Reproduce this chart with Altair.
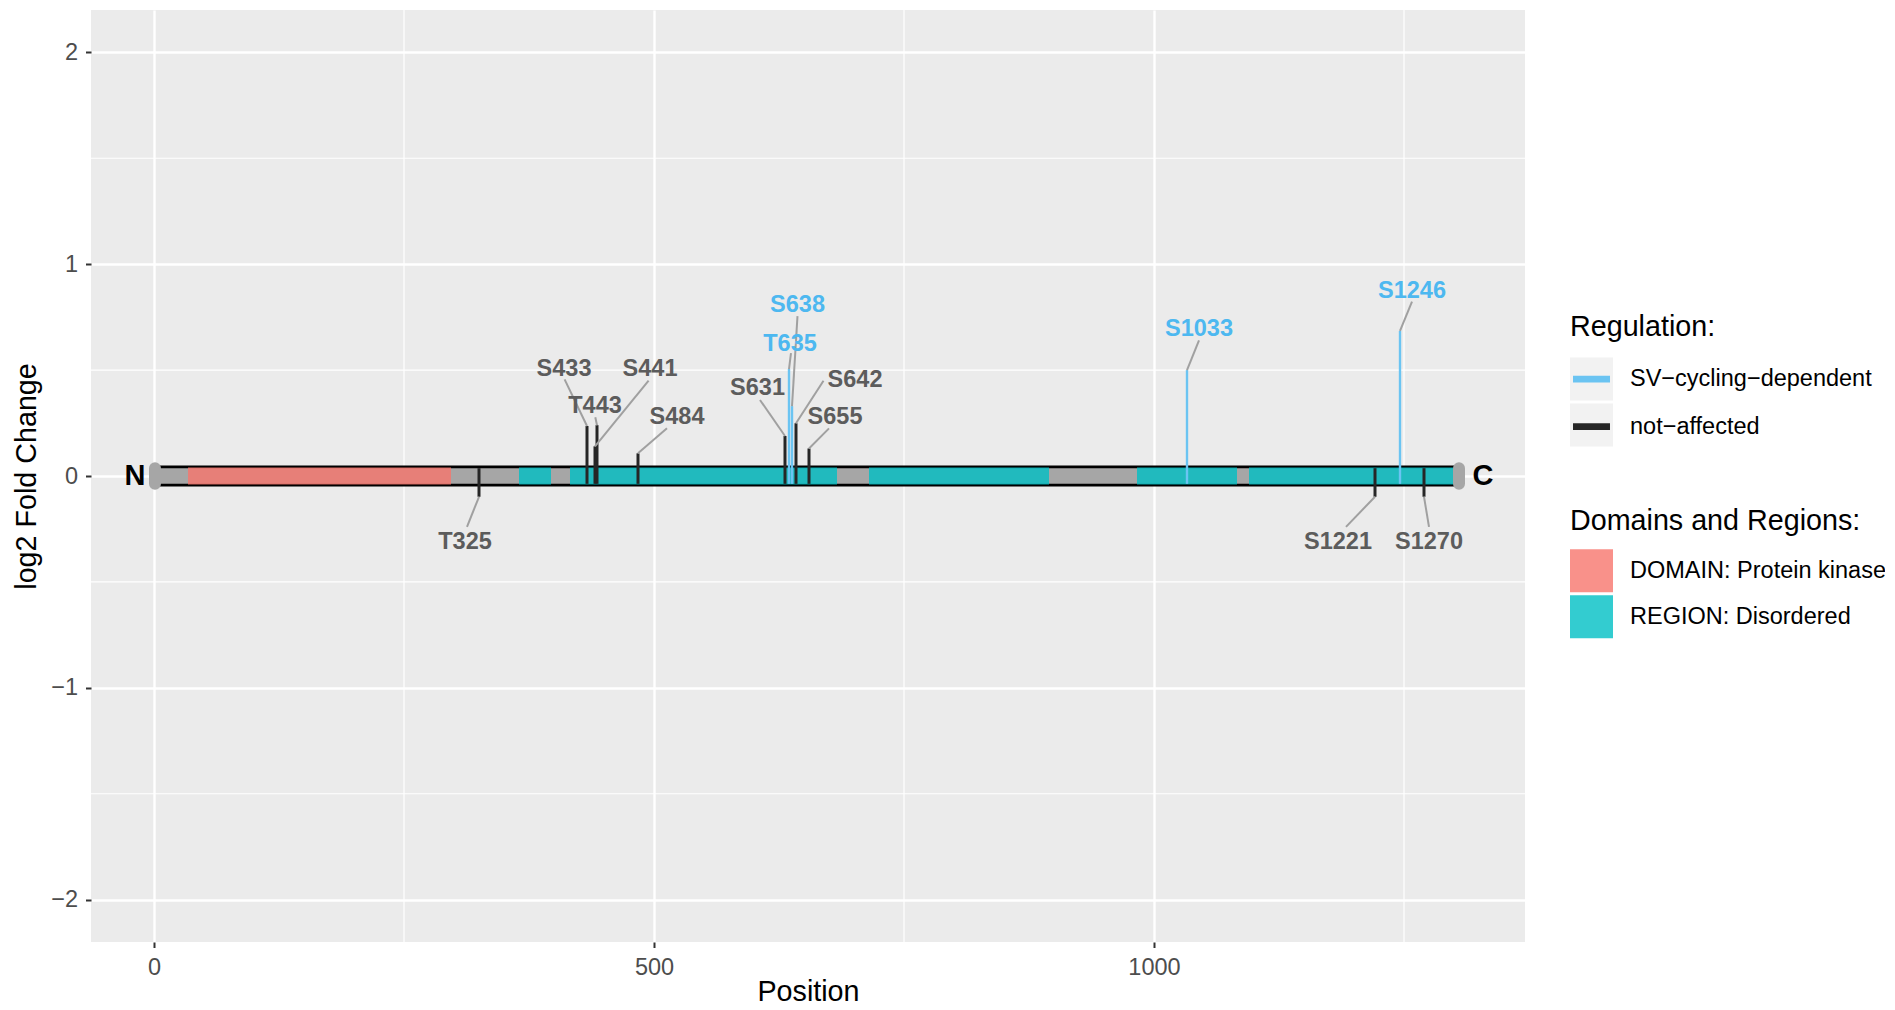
import altair as alt
import pandas as pd

# ---------------- data ----------------
protein_start = 1
protein_end = 1305
terminal_labels = ["N", "C"]
terminal_pos = [-19, 1329]

feature_types = ["DOMAIN: Protein kinase", "REGION: Disordered", "REGION: Disordered",
                 "REGION: Disordered", "REGION: Disordered", "REGION: Disordered"]
feature_start = [34, 365, 416, 715, 983, 1095]
feature_end = [297, 397, 683, 895, 1083, 1300]

reg_levels = ["SV\u2212cycling\u2212dependent", "not\u2212affected"]
SV, NA = reg_levels

site_names = ["T325", "S433", "S441", "T443", "S484", "S631", "T635", "S638",
              "S642", "S655", "S1033", "S1221", "S1246", "S1270"]
site_pos = [325, 433, 441, 443, 484, 631, 635, 638, 642, 655, 1033, 1221, 1246, 1270]
site_fc = [-0.098, 0.236, 0.14, 0.24, 0.107, 0.189, 0.505, 0.33, 0.249, 0.13,
           0.50, -0.098, 0.685, -0.098]
site_reg = [NA, NA, NA, NA, NA, NA, SV, SV, NA, NA, SV, NA, SV, NA]
label_x = [311, 410, 496, 441, 523, 603.5, 636, 643.5, 701, 681, 1045, 1184, 1258, 1275]
label_y = [-0.31, 0.503, 0.503, 0.33, 0.278, 0.415, 0.625, 0.806, 0.455, 0.278,
           0.695, -0.31, 0.875, -0.31]
seg_x = [313, 410.6, 494.6, 441.3, 513, 606, 637, 643.5, 669.5, 675, 1045, 1192, 1258, 1275]
seg_y = [-0.24, 0.456, 0.45, 0.277, 0.225, 0.359, 0.58, 0.755, 0.45, 0.225,
         0.64, -0.24, 0.823, -0.24]

x_ticks = [0, 500, 1000]
y_ticks = [-2, -1, 0, 1, 2]
x_minor = [250, 750, 1250]
y_minor = [-1.5, -0.5, 0.5, 1.5]
x_limits = [-63, 1371]
y_limits = [-2.2, 2.2]

# ---------------- styles ----------------
FONT = "Liberation Sans"
BLUE_LINE = "#6BC4F2"
BLUE_TEXT = "#4DB8F0"
DARK_LINE = "#262626"
GREY_TEXT = "#5C5C5C"
SEG_GREY = "#A0A0A0"
BAR_GREY = "#A6A6A6"
KEY_BG = "#F2F2F2"

sites = pd.DataFrame({
    "name": site_names, "pos": site_pos, "fc": site_fc, "reg": site_reg,
    "lx": label_x, "ly": label_y, "sx": seg_x, "sy": seg_y,
})
sites["base"] = sites["fc"].apply(lambda v: -0.037 if v > 0 else 0.037)

features = pd.DataFrame({"type": feature_types, "start": feature_start, "end": feature_end})
protein = pd.DataFrame({"start": [protein_start], "end": [protein_end]})
caps = pd.DataFrame({"pos": [protein_start, protein_end]})
terms = pd.DataFrame({"lab": terminal_labels, "pos": terminal_pos})
boxes = pd.DataFrame({"box": ["k1", "k2"]})
regs = pd.DataFrame({"reg": reg_levels})

xs = alt.Scale(domain=x_limits, nice=False, zero=False)
ys = alt.Scale(domain=y_limits, nice=False, zero=False)

XA = alt.Axis(values=x_ticks, format="d", title="Position", grid=True, gridColor="white",
              gridWidth=2.4, domain=False, tickColor="#333333", tickWidth=2,
              tickSize=5.5, labelFontSize=23.5, labelColor="#4D4D4D",
              labelFont=FONT, labelPadding=8, titleFont=FONT,
              titleFontSize=28.7, titleFontWeight="normal", titleColor="black",
              titleX=717, titleY=49, titleBaseline="middle", titleAlign="center")
YA = alt.Axis(values=y_ticks, title="log2 Fold Change", grid=True,
              gridColor="white", gridWidth=2.4, domain=False,
              tickColor="#333333", tickWidth=2, tickSize=5.5,
              labelFontSize=23.5, labelColor="#4D4D4D", labelFont=FONT,
              labelPadding=8, titleFont=FONT, titleFontSize=28.7,
              titleFontWeight="normal", titleColor="black",
              titleX=-64.4, titleY=466, titleAngle=270,
              titleBaseline="middle", titleAlign="center")


def X(f):
    return alt.X(f, scale=xs, axis=XA)


def Y(f):
    return alt.Y(f, scale=ys, axis=YA)


def YD(v):
    return alt.YDatum(v, type="quantitative", scale=ys, axis=YA)


def XD(v):
    return alt.XDatum(v, type="quantitative", scale=xs, axis=XA)


minor_x = alt.Chart(pd.DataFrame({"v": x_minor})).mark_rule(
    color="white", strokeWidth=1.2).encode(x=X("v:Q"))
minor_y = alt.Chart(pd.DataFrame({"v": y_minor})).mark_rule(
    color="white", strokeWidth=1.2).encode(y=Y("v:Q"))

black_bar = alt.Chart(protein).mark_rect(color="black").encode(
    x=X("start:Q"), x2="end:Q", y=YD(0.05), y2=alt.Y2Datum(-0.05))
grey_bar = alt.Chart(protein).mark_rect(color=BAR_GREY).encode(
    x=X("start:Q"), x2="end:Q", y=YD(0.036), y2=alt.Y2Datum(-0.036))

common_legend = dict(orient="none", direction="vertical", labelFontSize=23.5,
                     titleFontSize=28.7, titleFontWeight="normal", titleColor="black",
                     labelColor="black", labelFont=FONT, titleFont=FONT, labelOffset=17,
                     padding=0, labelLimit=400, titleLimit=600)

domains = alt.Chart(features).mark_rect(opacity=0.8).encode(
    x=X("start:Q"), x2="end:Q", y=YD(0.04), y2=alt.Y2Datum(-0.04),
    fill=alt.Fill("type:N",
                  scale=alt.Scale(domain=["DOMAIN: Protein kinase", "REGION: Disordered"],
                                  range=["#F8766D", "#00BFC4"]),
                  legend=alt.Legend(title="Domains and Regions:", legendX=1479, legendY=496.6,
                                    titlePadding=14, rowPadding=3,
                                    symbolType="square", symbolSize=1849,
                                    symbolStrokeWidth=0, symbolOpacity=0.8, zindex=1,
                                    **common_legend)))

cap_marks = alt.Chart(caps).mark_rule(color=BAR_GREY, strokeWidth=12, strokeCap="round").encode(
    x=X("pos:Q"), y=YD(0.037), y2=alt.Y2Datum(-0.037))

term_text = alt.Chart(terms).mark_text(font=FONT, fontSize=29, fontWeight="bold",
                                        color="black", align="center", baseline="middle").encode(
    x=X("pos:Q"), y=YD(0), text="lab:N")

site_lines = alt.Chart(sites).mark_rule().encode(
    x=X("pos:Q"), y=Y("base:Q"), y2="fc:Q",
    stroke=alt.condition(alt.datum.reg == SV, alt.value(BLUE_LINE), alt.value(DARK_LINE)),
    strokeWidth=alt.condition(alt.datum.reg == SV, alt.value(2.4), alt.value(3)))

connectors = alt.Chart(sites).mark_rule(color=SEG_GREY, strokeWidth=2).encode(
    x=X("pos:Q"), y=Y("fc:Q"), x2="sx:Q", y2="sy:Q")

labels = alt.Chart(sites).mark_text(font=FONT, fontSize=23.5, fontWeight="bold",
                                     align="center", baseline="middle").encode(
    x=X("lx:Q"), y=Y("ly:Q"), text="name:N",
    color=alt.condition(alt.datum.reg == SV, alt.value(BLUE_TEXT), alt.value(GREY_TEXT)))

# legend carriers (invisible marks; they only produce the legends)
reg_key = alt.Chart(regs).mark_point(filled=True, opacity=0).encode(
    x=XD(0), y=YD(0),
    color=alt.Color("reg:N", scale=alt.Scale(domain=reg_levels, range=[BLUE_LINE, DARK_LINE]),
                    legend=alt.Legend(title="Regulation:", legendX=1479, legendY=303,
                                      titlePadding=16, rowPadding=4.5,
                                      symbolType="M-1,-1M1,1M-0.86,-0.155H0.86V0.155H-0.86Z",
                                      symbolSize=1849, symbolStrokeWidth=0, symbolOpacity=1,
                                      zindex=2, **common_legend)))

key_boxes = alt.Chart(boxes).mark_point(filled=True, opacity=0, color=KEY_BG).encode(
    x=XD(0), y=YD(0),
    shape=alt.Shape("box:N", scale=alt.Scale(domain=["k1", "k2"], range=["square", "square"]),
                    legend=alt.Legend(title=None, legendX=1479, legendY=347.5, rowPadding=3,
                                      symbolSize=1849, symbolStrokeWidth=0,
                                      symbolFillColor=KEY_BG, symbolOpacity=1,
                                      labelExpr="''", zindex=0, **common_legend)))

chart = alt.layer(
    minor_x, minor_y, black_bar, grey_bar, domains, cap_marks, term_text,
    site_lines, connectors, labels, key_boxes, reg_key
).properties(
    width=1434, height=932,
    autosize=alt.AutoSizeParams(type="none"),
    padding={"left": 83, "top": 2, "right": 360, "bottom": 64},
    background="white",
).configure_view(fill="#EBEBEB", strokeWidth=0)

chart.save("out.html", embed_options={"renderer": "svg", "actions": False})
